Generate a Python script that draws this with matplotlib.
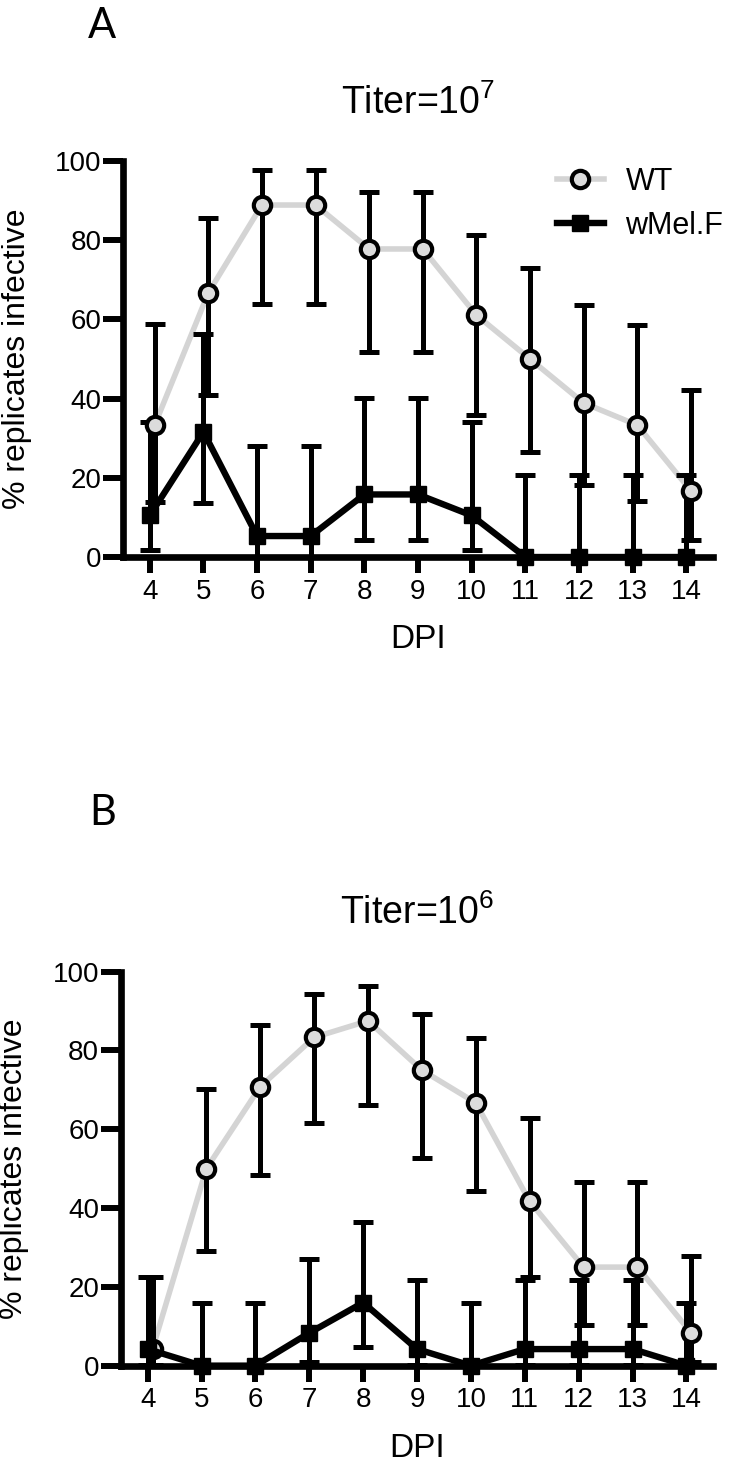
import matplotlib
matplotlib.use("Agg")
import matplotlib.pyplot as plt
import numpy as np

plt.rcParams['font.family'] = ['Liberation Sans', 'DejaVu Sans']
plt.rcParams['mathtext.fontset'] = 'custom'
plt.rcParams['mathtext.rm'] = 'Liberation Sans'
plt.rcParams['mathtext.default'] = 'regular'

days = [4, 5, 6, 7, 8, 9, 10, 11, 12, 13, 14]

# panel A, titer 10^7
wt_a = [33.3, 66.7, 88.9, 88.9, 77.8, 77.8, 61.1, 50.0, 38.9, 33.3, 16.7]
wt_a_lo = [14.0, 40.9, 63.9, 63.9, 51.9, 51.9, 35.9, 26.6, 18.2, 14.1, 4.2]
wt_a_hi = [58.8, 85.5, 97.7, 97.7, 92.3, 92.3, 81.3, 72.9, 63.6, 58.7, 42.2]
wmel_a = [10.5, 31.6, 5.3, 5.3, 15.8, 15.8, 10.5, 0, 0, 0, 0]
wmel_a_lo = [1.8, 13.6, 0.1, 0.1, 4.3, 4.3, 1.8, 0, 0, 0, 0]
wmel_a_hi = [34.2, 56.4, 28.0, 28.0, 40.2, 40.2, 34.2, 20.8, 20.8, 20.8, 20.8]

# panel B, titer 10^6
wt_b = [4.2, 50.0, 70.8, 83.3, 87.5, 75.0, 66.7, 41.7, 25.0, 25.0, 8.3]
wt_b_lo = [0.1, 29.2, 48.4, 61.5, 66.2, 52.6, 44.3, 22.6, 10.2, 10.2, 1.0]
wt_b_hi = [22.6, 70.2, 86.5, 94.3, 96.4, 89.3, 83.2, 62.8, 46.7, 46.7, 27.8]
wmel_b = [4.2, 0, 0, 8.3, 16.0, 4.2, 0, 4.2, 4.2, 4.2, 0]
wmel_b_lo = [0.1, 0, 0, 1.0, 4.7, 0.1, 0, 0.1, 0.1, 0.1, 0]
wmel_b_hi = [22.6, 16.0, 16.0, 27.0, 36.5, 21.8, 16.0, 21.8, 21.8, 21.8, 16.0]

GREY = '#d4d4d4'


def panel(ax, wt, wt_lo, wt_hi, wm, wm_lo, wm_hi, title, legend=False):
    x = np.array(days, dtype=float)
    xw = x + 0.09
    wt = np.array(wt); wm = np.array(wm)
    err_wt = [wt - np.array(wt_lo), np.array(wt_hi) - wt]
    err_wm = [wm - np.array(wm_lo), np.array(wm_hi) - wm]

    ax.plot(xw, wt, color=GREY, lw=4, zorder=1, clip_on=False)
    ax.errorbar(xw, wt, yerr=err_wt, fmt='none', ecolor='black', elinewidth=3.6,
                capsize=7, capthick=3.6, zorder=2, clip_on=False)
    ax.errorbar(x, wm, yerr=err_wm, fmt='none', ecolor='black', elinewidth=3.6,
                capsize=7, capthick=3.6, zorder=2, clip_on=False)
    ax.plot(xw, wt, ls='none', marker='o', ms=12.5, mfc='#dcdcdc', mec='black',
            mew=3, zorder=3, clip_on=False)
    ax.plot(x, wm, color='black', lw=4.6, marker='s', ms=11, zorder=4, clip_on=False)

    if legend:
        h1, = ax.plot([], [], color=GREY, lw=4, marker='o', ms=12.5, mfc='#dcdcdc',
                      mec='black', mew=3)
        h2, = ax.plot([], [], color='black', lw=4.6, marker='s', ms=11)
        ax.legend([h1, h2], ['WT', 'wMel.F'], loc='upper left',
                  bbox_to_anchor=(0.735, 0.985), frameon=False, fontsize=22,
                  handlelength=1.55, handletextpad=0.7, labelspacing=0.45,
                  borderpad=0, borderaxespad=0)

    ax.set_xlim(3.5, 14.5)
    ax.set_ylim(0, 100)
    ax.set_xticks(days)
    ax.set_yticks([0, 20, 40, 60, 80, 100])
    for s in ['top', 'right']:
        ax.spines[s].set_visible(False)
    for s in ['left', 'bottom']:
        ax.spines[s].set_linewidth(4.8)
    ax.tick_params(axis='y', length=14.5, width=4.3, pad=1, labelsize=20)
    ax.tick_params(axis='x', length=11.5, width=4.3, pad=4, labelsize=20)
    ax.set_xlabel('DPI', fontsize=24, labelpad=14)
    ax.set_ylabel('% replicates infective', fontsize=23)
    ax.yaxis.set_label_coords(-0.155, 0.5)
    ax.set_title(title, fontsize=27, pad=34)


fig = plt.figure(figsize=(7.33, 14.67), dpi=100)
ax_a = fig.add_axes([0.1678, 0.6203, 0.8049, 0.2699])
ax_b = fig.add_axes([0.1647, 0.0691, 0.8085, 0.2686])

panel(ax_a, wt_a, wt_a_lo, wt_a_hi, wmel_a, wmel_a_lo, wmel_a_hi,
      'Titer=10$^{7}$', legend=True)
panel(ax_b, wt_b, wt_b_lo, wt_b_hi, wmel_b, wmel_b_lo, wmel_b_hi,
      'Titer=10$^{6}$')

fig.text(88 / 733, 1 - 38 / 1467, 'A', fontsize=30, family=['Lato', 'DejaVu Sans'])
fig.text(89 / 733, 1 - 825 / 1467, 'B', fontsize=30, family=['Lato', 'DejaVu Sans'])

fig.savefig('out.png', dpi=100)
